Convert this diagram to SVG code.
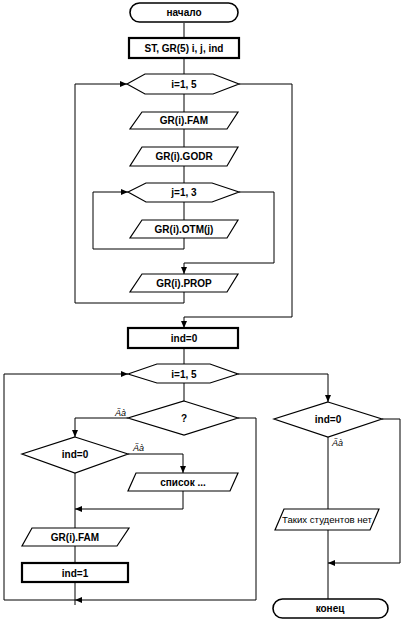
<svg xmlns="http://www.w3.org/2000/svg" width="401" height="622" viewBox="0 0 401 622">
<style>
.bg{fill:#ffffff}
.shape{fill:#ffffff;stroke:#000;stroke-width:1.2}
.thick{fill:#ffffff;stroke:#000;stroke-width:2.2}
.term{fill:#ffffff;stroke:#000;stroke-width:1.6}
.conn{fill:none;stroke:#000;stroke-width:1}
.t{font-family:"Liberation Sans",Arial,sans-serif;font-size:10px;font-weight:bold;text-anchor:middle;fill:#000}
.lbl{font-family:"Liberation Sans",Arial,sans-serif;font-size:9px;font-style:italic;fill:#000}
.n{font-family:"Liberation Sans",Arial,sans-serif;font-size:9px;text-anchor:middle;fill:#000}
</style>
<defs>
<marker id="ah" markerUnits="userSpaceOnUse" markerWidth="8" markerHeight="8" viewBox="0 0 8 8" refX="7" refY="4" orient="auto">
<path d="M0,1 L7,4 L0,7 Z" fill="#000"/>
</marker>
</defs>
<rect class="bg" x="0" y="0" width="401" height="622"/>

<g id="connectors">
<path class="conn" d="M184,23 V38"/>
<path class="conn" d="M184,58 V74"/>
<path class="conn" d="M184,94 V112"/>
<path class="conn" d="M184,129 V147"/>
<path class="conn" d="M184,166 V183"/>
<path class="conn" d="M184,202 V220"/>
<path class="conn" d="M184,238 V249 H93 V192 H128" marker-end="url(#ah)"/>
<path class="conn" d="M239,192 H274 V263 H184 V274" marker-end="url(#ah)"/>
<path class="conn" d="M184,292 V303 H75 V84 H127" marker-end="url(#ah)"/>
<path class="conn" d="M239,84 H292 V317 H184 V328" marker-end="url(#ah)"/>
<path class="conn" d="M184,348 V364"/>
<path class="conn" d="M184,383 V401"/>
<path class="conn" d="M238,374 H328 V402" marker-end="url(#ah)"/>
<path class="conn" d="M128,418 H75 V437" marker-end="url(#ah)"/>
<path class="conn" d="M238,418 H256 V600 H75" marker-end="url(#ah)"/>
<path class="conn" d="M75,600 H4 V374 H128" marker-end="url(#ah)"/>
<path class="conn" d="M128,454 H183 V473" marker-end="url(#ah)"/>
<path class="conn" d="M183,491 V509 H75" marker-end="url(#ah)"/>
<path class="conn" d="M75,473 V528"/>
<path class="conn" d="M75,546 V563"/>
<path class="conn" d="M75,582 V605"/>
<path class="conn" d="M328,437 V509"/>
<path class="conn" d="M328,530 V599"/>
<path class="conn" d="M382,419 H400 V563 H328" marker-end="url(#ah)"/>
<text class="lbl" x="126" y="416" text-anchor="end">Äà</text>
<text class="lbl" x="133" y="451">Äà</text>
<text class="lbl" x="332" y="446">Äà</text>
</g>

<g id="start">
<rect class="term" x="130" y="3" width="108" height="19" rx="9.5"/>
<text class="t" x="184" y="16">начало</text>
</g>
<g id="decl">
<rect class="thick" x="129" y="38" width="110" height="20"/>
<text class="t" x="184" y="52">ST, GR(5) i, j, ind</text>
</g>
<g id="loop_i1">
<polygon class="shape" points="127,84 145,74 213,74 239,84 213,94 145,94"/>
<text class="t" x="184" y="88">i=1, 5</text>
</g>
<g id="in_fam">
<polygon class="shape" points="142,112 238,112 227,129 130,129"/>
<text class="t" x="184" y="124">GR(i).FAM</text>
</g>
<g id="in_godr">
<polygon class="shape" points="142,147 238,147 227,166 130,166"/>
<text class="t" x="184" y="160">GR(i).GODR</text>
</g>
<g id="loop_j">
<polygon class="shape" points="128,192 146,183 212,183 239,192 212,202 146,202"/>
<text class="t" x="184" y="196">j=1, 3</text>
</g>
<g id="in_otm">
<polygon class="shape" points="142,220 238,220 227,238 130,238"/>
<text class="t" x="184" y="233">GR(i).OTM(j)</text>
</g>
<g id="in_prop">
<polygon class="shape" points="142,274 238,274 227,292 130,292"/>
<text class="t" x="184" y="287">GR(i).PROP</text>
</g>
<g id="ind0">
<rect class="thick" x="128" y="328" width="110" height="20"/>
<text class="t" x="184" y="342">ind=0</text>
</g>
<g id="loop_i2">
<polygon class="shape" points="128,374 157,364 210,364 238,374 210,383 157,383"/>
<text class="t" x="184" y="378">i=1, 5</text>
</g>
<g id="cond_q">
<polygon class="shape" points="184,401 238,418 184,435 128,418"/>
<text class="t" x="184" y="422">?</text>
</g>
<g id="cond_ind_left">
<polygon class="shape" points="75,437 128,454 75,473 22,454"/>
<text class="t" x="75" y="458">ind=0</text>
</g>
<g id="out_list">
<polygon class="shape" points="136,473 238,473 230,491 128,491"/>
<text class="t" x="183" y="486">список ...</text>
</g>
<g id="out_fam">
<polygon class="shape" points="32,528 129,528 117,546 22,546"/>
<text class="t" x="75" y="541">GR(i).FAM</text>
</g>
<g id="ind1">
<rect class="thick" x="22" y="563" width="106" height="19"/>
<text class="t" x="75" y="577">ind=1</text>
</g>
<g id="cond_ind_right">
<polygon class="shape" points="328,402 382,419 328,437 274,419"/>
<text class="t" x="328" y="423">ind=0</text>
</g>
<g id="out_none">
<polygon class="shape" points="284,509 379,509 370,530 275,530"/>
<text class="n" x="327" y="523" textLength="90" lengthAdjust="spacingAndGlyphs">Таких студентов нет</text>
</g>
<g id="end">
<rect class="term" x="273" y="599" width="115" height="19" rx="9.5"/>
<text class="t" x="330" y="612">конец</text>
</g>
</svg>
